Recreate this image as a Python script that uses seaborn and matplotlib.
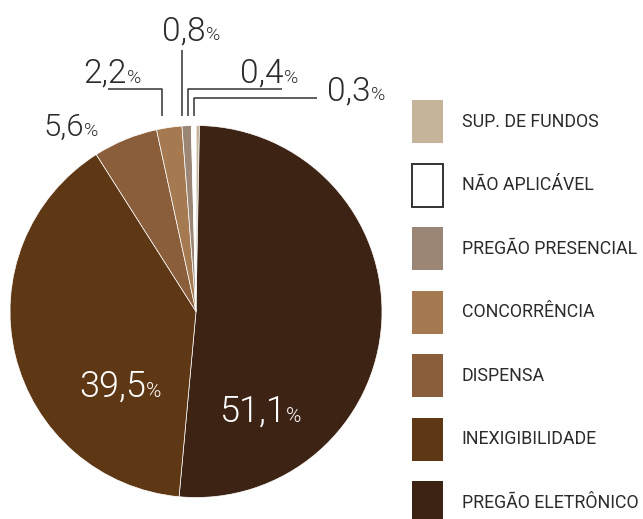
import matplotlib
matplotlib.use("Agg")
import matplotlib.pyplot as plt
from matplotlib.patches import Patch
import seaborn as sns

# Share of contracting modalities (%), in legend order
categories = ["SUP. DE FUNDOS", "NÃO APLICÁVEL", "PREGÃO PRESENCIAL",
              "CONCORRÊNCIA", "DISPENSA", "INEXIGIBILIDADE", "PREGÃO ELETRÔNICO"]
values = [0.3, 0.4, 0.8, 2.2, 5.6, 39.5, 51.1]
colors = ["#c5b49a", "#ffffff", "#9b8676", "#a57a50", "#8a5d3b", "#5e3714", "#3d2314"]

# Clockwise drawing order starting at 12 o'clock
pie_order = [0, 6, 5, 4, 3, 2, 1]

sns.set_theme(style="white")
plt.rcParams["font.family"] = ["Roboto", "DejaVu Sans"]

W, H = 643, 519
CX, CY, R = 196, 311.5, 186  # pie centre and radius in pixels


def px(x, y):
    """Pixel position -> data coordinates (pie radius = 1)."""
    return (x - CX) / R, (CY - y) / R


fig = plt.figure(figsize=(W / 100, H / 100), dpi=100)
ax = fig.add_axes([0, 0, 1, 1])

pal = sns.color_palette([colors[i] for i in pie_order])
ax.pie([values[i] for i in pie_order], colors=pal, startangle=90,
       counterclock=False, radius=1, center=(0, 0),
       wedgeprops=dict(edgecolor="white", linewidth=0.5))
ax.set_xlim((0 - CX) / R, (W - CX) / R)
ax.set_ylim((CY - H) / R, CY / R)
ax.set_aspect("auto")
ax.axis("off")


def fmt(v):
    return f"{v:.1f}".replace(".", ",")


def pct_label(v, x, y, color, big, small):
    """Number ending at (x, y) baseline, followed by a smaller % sign."""
    dx, dy = px(x, y)
    ax.text(dx, dy, fmt(v), ha="right", va="baseline", color=color,
            fontsize=big, fontweight=300)
    ax.text(dx + 0.3 / R, dy, "%", ha="left", va="baseline", color=color,
            fontsize=small, fontweight=300)


dark = "#2b2b2b"
val = dict(zip(categories, values))

# labels inside the two large wedges
pct_label(val["PREGÃO ELETRÔNICO"], 286, 421.7, "white", 26, 15)
pct_label(val["INEXIGIBILIDADE"], 146, 396.7, "white", 26, 15)

# outside labels
pct_label(val["DISPENSA"], 84, 136, dark, 22.5, 14)
pct_label(val["CONCORRÊNCIA"], 126.5, 82.7, dark, 24, 14)
pct_label(val["PREGÃO PRESENCIAL"], 206, 40, dark, 24, 14)
pct_label(val["NÃO APLICÁVEL"], 284, 82.7, dark, 24, 14)
pct_label(val["SUP. DE FUNDOS"], 370.5, 100, dark, 24, 14)

# leader lines for the small wedges
leaders = [
    [(108, 89.3), (161.7, 89.3), (161.7, 116)],
    [(181.7, 50), (181.7, 116)],
    [(281.7, 89.3), (188.3, 89.3), (188.3, 116)],
    [(316.7, 98.3), (194.3, 98.3), (194.3, 116)],
]
for pts in leaders:
    xs, ys = zip(*[px(x, y) for x, y in pts])
    ax.plot(xs, ys, color="#333333", lw=1.1, solid_capstyle="butt")

# legend
handles = []
for c, col in zip(categories, colors):
    if col == "#ffffff":
        handles.append(Patch(facecolor=col, edgecolor="#333333", linewidth=1.4, label=c))
    else:
        handles.append(Patch(facecolor=col, edgecolor=col, linewidth=0, label=c))

fs_pt = 12.8
fs_px = fs_pt * 100 / 72
sq_w, sq_h, gap = 31, 43, 20.5
hh = (sq_h / fs_px - 0.245) / 0.65
leg = ax.legend(handles=handles, loc="upper left",
                bbox_to_anchor=(412 / W, 1 - 100 / H),
                bbox_transform=fig.transFigure, frameon=False,
                borderpad=0, borderaxespad=0,
                handlelength=sq_w / fs_px, handleheight=hh,
                handletextpad=18.7 / fs_px, labelspacing=gap / fs_px,
                prop=dict(family=["Roboto", "DejaVu Sans"], size=fs_pt))
for t in leg.get_texts():
    t.set_color(dark)

fig.savefig("out.png", dpi=100)
